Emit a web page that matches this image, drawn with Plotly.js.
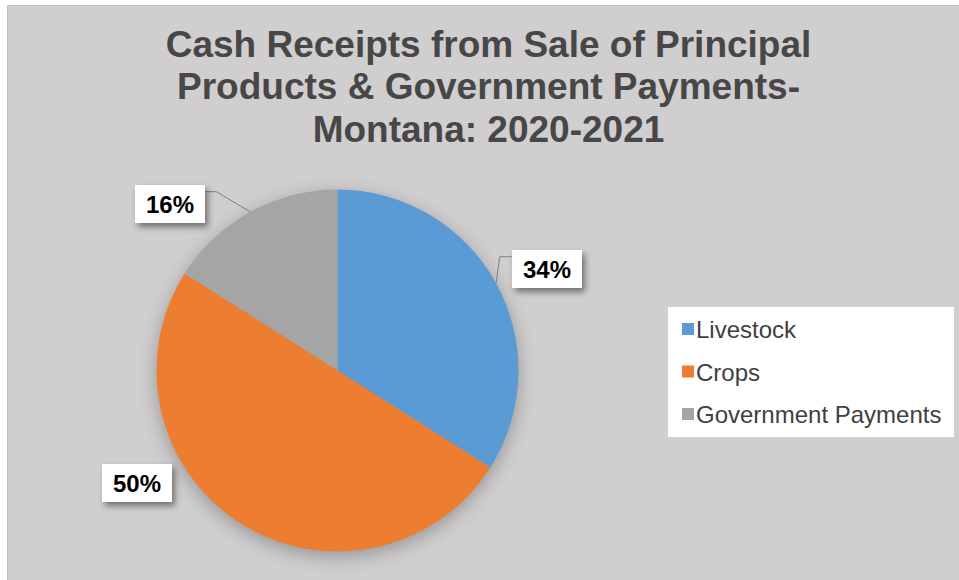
<!DOCTYPE html>
<html>
<head>
<meta charset="utf-8">
<script src="https://cdn.plot.ly/plotly-3.0.1.min.js"></script>
<style>
  html, body { margin: 0; padding: 0; background: #ffffff; width: 959px; height: 580px; overflow: hidden; }
  #frame { position: absolute; left: 7px; top: 5px; border-left: 1px solid #c2c2c2; border-top: 1px solid #c2c2c2; }
  #chart { width: 951px; height: 574px; }
  .annotation-text-g rect.bg { filter: drop-shadow(3px 4px 3px rgba(0,0,0,0.45)); }
  .pielayer { filter: drop-shadow(0px 5px 9px rgba(0,0,0,0.28)); }
</style>
</head>
<body>
<div id="frame"><div id="chart"></div></div>
<script>
// ---- data ----
const categories = ["Livestock", "Crops", "Government Payments"];
const shares = [34, 50, 16];
const sliceColors = ["#5b9bd5", "#ed7d31", "#a5a5a5"];
const chartTitle = "Cash Receipts from Sale of Principal<br>Products & Government Payments-<br>Montana: 2020-2021";

// ---- layout geometry (pixels inside the plot div) ----
const W = 951, H = 574, OX = 8, OY = 6;          // plot div origin on the page
const pieCenter = [337.5, 370.5], pieRadius = 181; // page pixels
// label box centres (page pixels) and leader-line settings
const labelCenters = [[546.7, 269], [137.3, 482.5], [170.3, 204]];
const leaders = [{side: -1, dx: 12, dy: -12.3}, null, {side: 1, dx: 11, dy: -12.3}];
const boxW = 70, boxH = 38;
const titleLineSpacing = 1.143;   // em
const legendItemStep = 42.5;      // px
const legendTextX = 28;           // px
const legendRightPad = 13;        // px

const px = X => (X - OX) / W;
const py = Y => 1 - (Y - OY) / H;

const total = shares.reduce((a, b) => a + b, 0);

// pie domain
const domain = {
  x: [px(pieCenter[0] - pieRadius), px(pieCenter[0] + pieRadius)],
  y: [py(pieCenter[1] + pieRadius), py(pieCenter[1] - pieRadius)]
};

// annotations + leader lines
const annotations = [];
const shapes = [];
let cum = 0;
shares.forEach((v, i) => {
  const mid = (cum + v / 2) / total * 2 * Math.PI; // clockwise from 12 o'clock
  cum += v;
  const [cx, cy] = labelCenters[i];
  annotations.push({
    xref: 'paper', yref: 'paper', x: px(cx), y: py(cy),
    xanchor: 'center', yanchor: 'middle', showarrow: false,
    text: Math.round(v / total * 100) + '%',
    font: {family: 'Liberation Sans, Arial, sans-serif', size: 24, color: '#000000', weight: 700},
    bgcolor: '#ffffff', width: boxW, height: boxH, borderpad: 0, borderwidth: 0
  });
  const L = leaders[i];
  if (L) {
    const ex = pieCenter[0] + pieRadius * Math.sin(mid);
    const ey = pieCenter[1] - pieRadius * Math.cos(mid);
    const sx = cx + L.side * boxW / 2;
    const sy = cy + L.dy;
    const kx = sx + L.side * L.dx;
    shapes.push({
      type: 'path', xref: 'paper', yref: 'paper',
      path: `M ${px(sx)},${py(sy)} L ${px(kx)},${py(sy)} L ${px(ex)},${py(ey)}`,
      line: {color: '#7f7f7f', width: 1}
    });
  }
});

const data = [{
  type: 'pie',
  labels: categories,
  values: shares,
  marker: {colors: sliceColors, line: {width: 0}},
  sort: false,
  direction: 'clockwise',
  rotation: 0,
  textinfo: 'none',
  hoverinfo: 'label+percent',
  domain: domain
}];

const layout = {
  width: W, height: H,
  margin: {l: 0, r: 0, t: 0, b: 0},
  paper_bgcolor: '#d0cecf',
  plot_bgcolor: '#d0cecf',
  title: {
    text: chartTitle,
    x: px(488.5), xanchor: 'center',
    y: py(57), yanchor: 'top', yref: 'container',
    font: {family: 'Liberation Sans, Arial, sans-serif', size: 37, color: '#474747', weight: 700}
  },
  showlegend: true,
  legend: {
    x: px(668), xanchor: 'left',
    y: py(307), yanchor: 'top',
    bgcolor: '#ffffff', borderwidth: 0,
    font: {family: 'Liberation Sans, Arial, sans-serif', size: 24, color: '#404040'}
  },
  annotations: annotations,
  shapes: shapes
};

const gd = document.getElementById('chart');
Plotly.newPlot(gd, data, layout, {displayModeBar: false, staticPlot: true}).then(() => {
  // tighter title line spacing (Excel-like)
  gd.querySelectorAll('.gtitle tspan.line').forEach(t => {
    const dy = parseFloat(t.getAttribute('dy') || '0');
    if (dy) t.setAttribute('dy', (dy / 1.3 * titleLineSpacing) + 'em');
  });
  // roomier legend rows, closer text
  const items = Array.from(gd.querySelectorAll('.legend .traces'));
  const pos = items.map(g => {
    const m = /translate\(\s*([-\d.]+)[ ,]+([-\d.]+)/.exec(g.getAttribute('transform') || '');
    return m ? [parseFloat(m[1]), parseFloat(m[2])] : [0, 0];
  });
  let extra = 0;
  if (items.length > 1) {
    const step0 = pos[1][1] - pos[0][1];
    items.forEach((g, i) => {
      g.setAttribute('transform', `translate(${pos[i][0]},${pos[0][1] + i * legendItemStep})`);
    });
    extra = (legendItemStep - step0) * (items.length - 1);
  }
  let maxRight = 0;
  items.forEach((g, i) => {
    const t = g.querySelector('.legendtext');
    if (!t) return;
    t.setAttribute('x', legendTextX);
    const bb = t.getBBox();
    maxRight = Math.max(maxRight, pos[i][0] + bb.x + bb.width);
  });
  const newW = maxRight + legendRightPad;
  const adjustRect = r => {
    r.setAttribute('height', parseFloat(r.getAttribute('height')) + extra);
    r.setAttribute('width', newW);
  };
  gd.querySelectorAll('.legend rect.bg').forEach(adjustRect);
  gd.querySelectorAll('clipPath[id^="legend"] rect').forEach(adjustRect);
});
</script>
</body>
</html>
